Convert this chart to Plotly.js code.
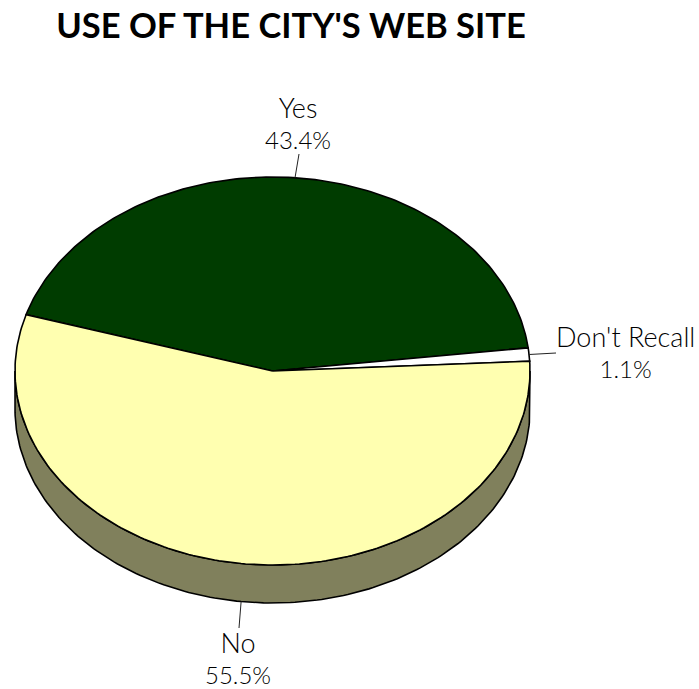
<!DOCTYPE html>
<html>
<head>
<meta charset="utf-8">
<script src="https://cdn.plot.ly/plotly-3.0.1.min.js"></script>
<style>html,body{margin:0;padding:0;background:#fff}#chart{width:699px;height:689px}</style>
</head>
<body>
<div id="chart"></div>
<script>
// Survey shares, clockwise from the start angle
const categories = ["Yes", "Don't Recall", "No"];
const shares = [43.4, 1.1, 55.5];
const sliceColors = ["#003c00", "#ffffff", "#ffffb0"];
const wallColor = "#80805c";
const chartTitle = "USE OF THE CITY'S WEB SITE";

// Canvas and tilted-disc geometry, in pixels
const W = 699, H = 689;
const cx = 272.5, cy = 371, rx = 257.5, ry = 194, depth = 38;
const startAngle = 163.1;

// Label centres and leader-line ends, in pixels
const labelCentres = [[298, 122.5], [625, 351.5], [238, 657.5]];
const leaderEnds = [[299, 154], [556, 353], [239, 628]];

const rad = d => d * Math.PI / 180;
const toX = px => (px - cx) / rx;
const toY = py => (cy - py) / ry;

// Points along the rim between two angles, in unit-circle data space
function arc(from, to, drop) {
  const xs = [], ys = [];
  const n = Math.max(2, Math.ceil(Math.abs(to - from)));
  for (let i = 0; i <= n; i++) {
    const a = rad(from + (to - from) * i / n);
    xs.push(Math.cos(a));
    ys.push(Math.sin(a) - drop);
  }
  return [xs, ys];
}

const traces = [];
const outline = {color: "#000000", width: 1.6};

// Side wall under the front half of the disc
const d = depth / ry;
const [tx, ty] = arc(180, 360, 0);
const [bx, by] = arc(360, 180, d);
traces.push({
  type: "scatter", mode: "lines", fill: "toself",
  x: tx.concat(bx, [tx[0]]), y: ty.concat(by, [ty[0]]),
  fillcolor: wallColor, line: outline, hoverinfo: "skip", showlegend: false
});

// Slices and their leader lines
let angle = startAngle;
const annotations = [];
categories.forEach((name, i) => {
  const sweep = shares[i] * 3.6;
  const [ax, ay] = arc(angle, angle - sweep, 0);
  traces.push({
    type: "scatter", mode: "lines", fill: "toself", name: name,
    x: [0].concat(ax, [0]), y: [0].concat(ay, [0]),
    fillcolor: sliceColors[i], line: outline, hoverinfo: "skip", showlegend: false
  });

  // The front slice's leader starts from the bottom of the wall
  const mid = rad(angle - sweep / 2);
  const drop = Math.sin(mid) < -0.5 ? d : 0;
  traces.push({
    type: "scatter", mode: "lines",
    x: [Math.cos(mid), toX(leaderEnds[i][0])],
    y: [Math.sin(mid) - drop, toY(leaderEnds[i][1])],
    line: {color: "#222222", width: 1}, hoverinfo: "skip", showlegend: false
  });

  annotations.push({
    x: toX(labelCentres[i][0]), y: toY(labelCentres[i][1]),
    xref: "x", yref: "y", xanchor: "center", yanchor: "middle",
    showarrow: false, align: "center",
    text: '<span style="font-size:27px">' + name + "</span><br>" + shares[i].toFixed(1) + "%",
    font: {family: "Lato, sans-serif", size: 24, color: "#000000", weight: 300}
  });
  angle -= sweep;
});

const layout = {
  width: W, height: H,
  margin: {l: 0, r: 0, t: 0, b: 0},
  paper_bgcolor: "#ffffff", plot_bgcolor: "#ffffff",
  title: {
    text: "<b>" + chartTitle + "</b>",
    x: 291 / W, xref: "paper", xanchor: "center",
    y: 1 - 26 / H, yref: "paper", yanchor: "middle",
    font: {family: "Lato, sans-serif", size: 34.5, color: "#000000"}
  },
  xaxis: {visible: false, range: [toX(0), toX(W)], fixedrange: true},
  yaxis: {visible: false, range: [toY(H), toY(0)], fixedrange: true},
  hovermode: false,
  annotations: annotations
};

Plotly.newPlot("chart", traces, layout, {displayModeBar: false, staticPlot: true});
</script>
</body>
</html>
